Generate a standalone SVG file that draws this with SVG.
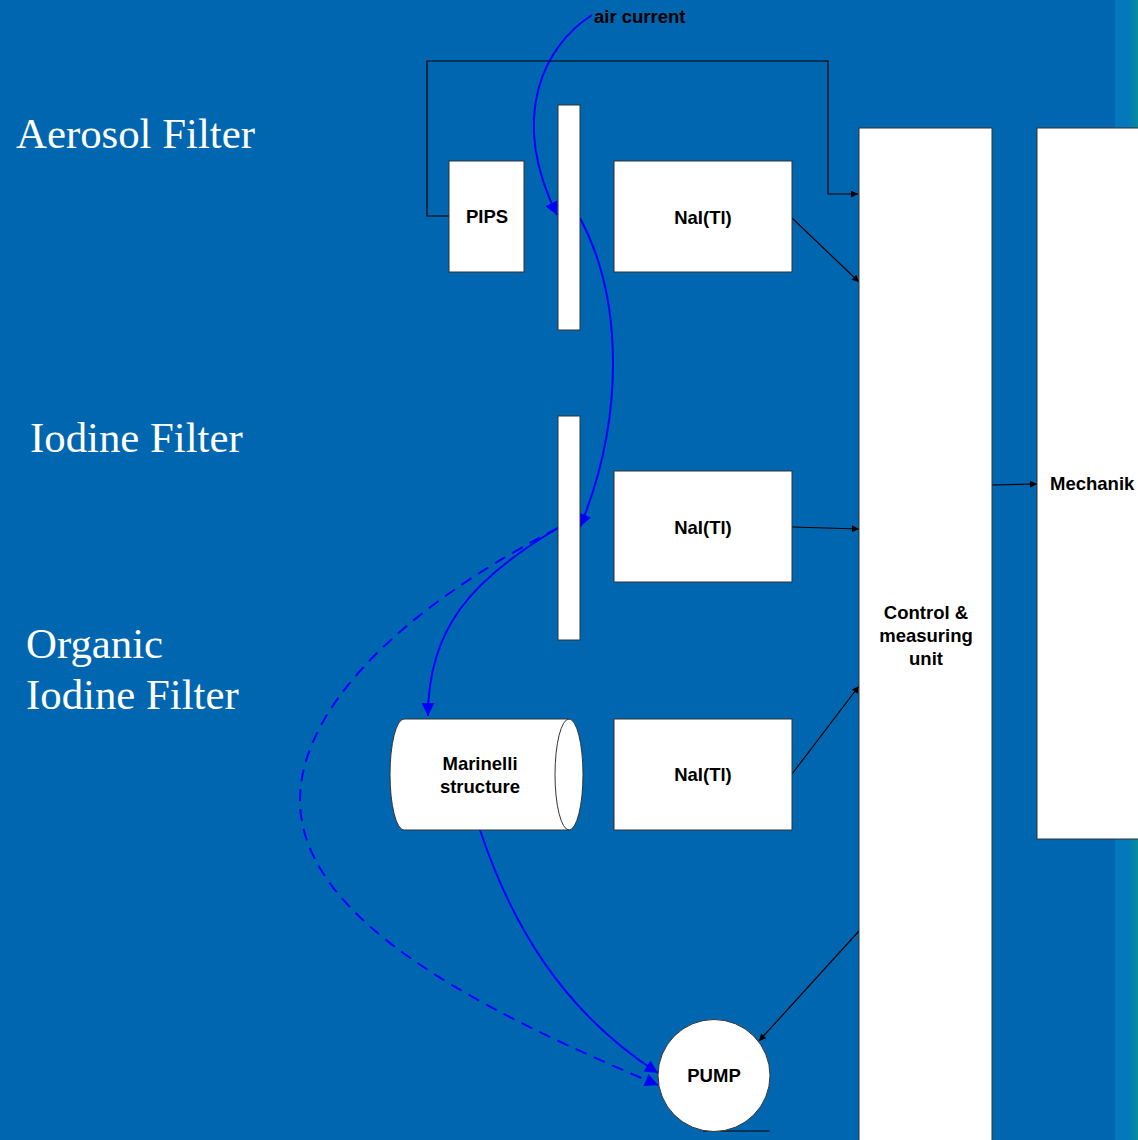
<svg xmlns="http://www.w3.org/2000/svg" width="1138" height="1140" viewBox="0 0 1138 1140">
<defs>
<style>
.bg{fill:#0066B0}
.box{fill:#fff;stroke:#333;stroke-width:1}
.lbl{font-family:"Liberation Sans",Arial,sans-serif;font-weight:bold;font-size:18.5px;fill:#000;text-anchor:middle;dominant-baseline:central}
.title{font-family:"Liberation Serif","Times New Roman",serif;font-size:42.8px;fill:#fff}
.con{fill:none;stroke:#000;stroke-width:1.2}
.air{fill:none;stroke:#0000FF;stroke-width:2}
.dash{stroke-dasharray:12,8}
</style>
<linearGradient id="edge" x1="0" y1="0" x2="1" y2="0">
<stop offset="0" stop-color="#0378BE"/>
<stop offset="0.55" stop-color="#0378BC"/>
<stop offset="1" stop-color="#078C9E"/>
</linearGradient>
<marker id="ab" viewBox="0 0 10 10" refX="10" refY="5" markerWidth="9" markerHeight="7" markerUnits="userSpaceOnUse" orient="auto">
<path d="M0,0 L10,5 L0,10 Z" fill="#000"/>
</marker>
<marker id="ablue" viewBox="0 0 10 10" refX="10" refY="5" markerWidth="18" markerHeight="13" markerUnits="userSpaceOnUse" orient="auto">
<path d="M0,0 L10,5 L0,10 Z" fill="#0000FF"/>
</marker>
</defs>
<rect class="bg" x="0" y="0" width="1138" height="1140"/>
<rect x="1115" y="0" width="23" height="1140" fill="url(#edge)"/>

<g id="titles">
<text class="title" x="16" y="148">Aerosol Filter</text>
<text class="title" x="30" y="452">Iodine Filter</text>
<text class="title" x="26" y="658">Organic</text>
<text class="title" x="26" y="709">Iodine Filter</text>
</g>

<g id="connectors">
<path class="con" d="M449,216 H427 V61 H828 V194 H858" marker-end="url(#ab)"/>
<line class="con" x1="792" y1="218" x2="859" y2="282" marker-end="url(#ab)"/>
<line class="con" x1="792" y1="527" x2="859" y2="529" marker-end="url(#ab)"/>
<line class="con" x1="792" y1="774" x2="859" y2="686" marker-end="url(#ab)"/>
<line class="con" x1="859" y1="931" x2="759" y2="1041" marker-end="url(#ab)"/>
<line class="con" x1="992" y1="485" x2="1037" y2="484" marker-end="url(#ab)"/>
<line class="con" x1="703" y1="1131" x2="770" y2="1131"/>
<path class="air" d="M592,15 C545,45 508,115 557,215" marker-end="url(#ablue)"/>
<path class="air" d="M580,218 C624,300 624,420 580,527" marker-end="url(#ablue)"/>
<path class="air" d="M558,528 C470,580 428,630 428,716" marker-end="url(#ablue)"/>
<path class="air dash" d="M558,528 C380,620 300,720 300,800 C300,920 480,1010 658,1085" marker-end="url(#ablue)"/>
<path class="air" d="M480,830 C510,920 560,1010 658,1073" marker-end="url(#ablue)"/>
</g>

<g id="air-current">
<text class="lbl" x="594" y="16" style="text-anchor:start">air current</text>
</g>

<g id="aerosol-filter"><rect class="box" x="558" y="105" width="22" height="225"/></g>
<g id="iodine-filter"><rect class="box" x="558" y="416" width="22" height="224"/></g>

<g id="pips">
<rect class="box" x="449" y="161" width="75" height="111"/>
<text class="lbl" x="487" y="216">PIPS</text>
</g>
<g id="nai1">
<rect class="box" x="614" y="161" width="178" height="111"/>
<text class="lbl" x="703" y="217">NaI(Tl)</text>
</g>
<g id="nai2">
<rect class="box" x="614" y="471" width="178" height="111"/>
<text class="lbl" x="703" y="527">NaI(Tl)</text>
</g>
<g id="nai3">
<rect class="box" x="614" y="719" width="178" height="111"/>
<text class="lbl" x="703" y="774">NaI(Tl)</text>
</g>

<g id="marinelli">
<path class="box" d="M404,719 L569,719 A14,55.5 0 0 1 569,830 L404,830 A14,55.5 0 0 1 404,719 Z"/>
<path fill="none" stroke="#333" stroke-width="1" d="M569,719 A14,55.5 0 0 0 569,830"/>
<text class="lbl" x="480" y="763">Marinelli</text>
<text class="lbl" x="480" y="786">structure</text>
</g>

<g id="control">
<rect class="box" x="859" y="128" width="133" height="1020"/>
<text class="lbl" x="926" y="612">Control &amp;</text>
<text class="lbl" x="926" y="635">measuring</text>
<text class="lbl" x="926" y="658">unit</text>
</g>

<g id="mechanik">
<rect class="box" x="1037" y="128" width="110" height="711"/>
<text class="lbl" x="1050" y="483" style="text-anchor:start">Mechanik</text>
</g>

<g id="pump">
<circle class="box" cx="714" cy="1075.5" r="56"/>
<text class="lbl" x="714" y="1075">PUMP</text>
</g>
</svg>
